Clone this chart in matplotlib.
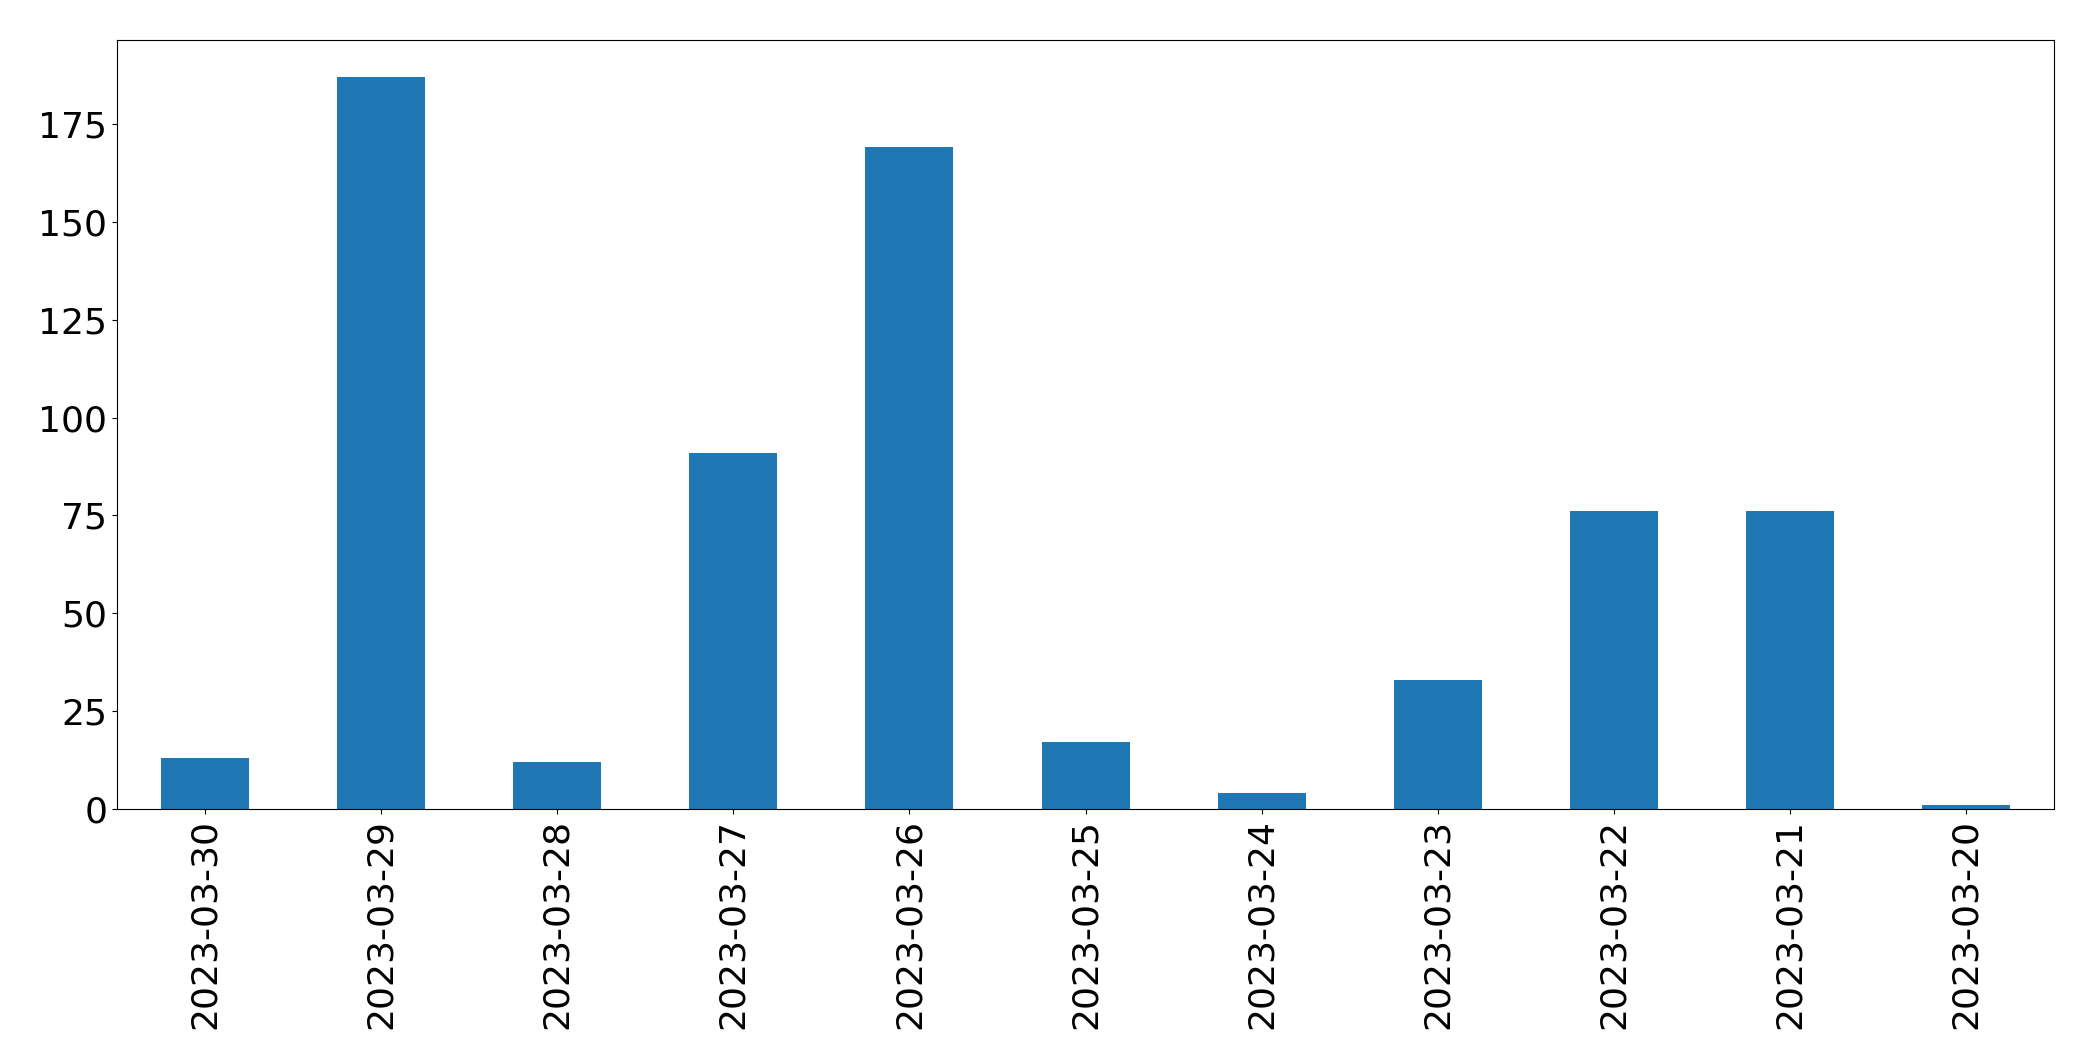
import numpy as np
import matplotlib
matplotlib.use("Agg")
import matplotlib.pyplot as plt

# daily counts, newest first (as in the reference)
dates = ["2023-03-30", "2023-03-29", "2023-03-28", "2023-03-27", "2023-03-26",
         "2023-03-25", "2023-03-24", "2023-03-23", "2023-03-22", "2023-03-21",
         "2023-03-20"]
counts = [13, 187, 12, 91, 169, 17, 4, 33, 76, 76, 1]

fig = plt.figure(figsize=(20.93, 10.61), dpi=100)
ax = fig.add_axes([0.0559, 0.2375, 0.9255, 0.7245])

x = np.arange(len(dates))
ax.bar(x, counts, width=0.5, color="#1f77b4")
ax.set_xlim(-0.5, len(dates) - 0.5)
ax.set_xticks(x)
ax.set_xticklabels(dates, rotation=90, fontsize=26)
ax.set_yticks([0, 25, 50, 75, 100, 125, 150, 175])
ax.tick_params(axis="y", labelsize=26)

fig.savefig("out.png", dpi=100)
